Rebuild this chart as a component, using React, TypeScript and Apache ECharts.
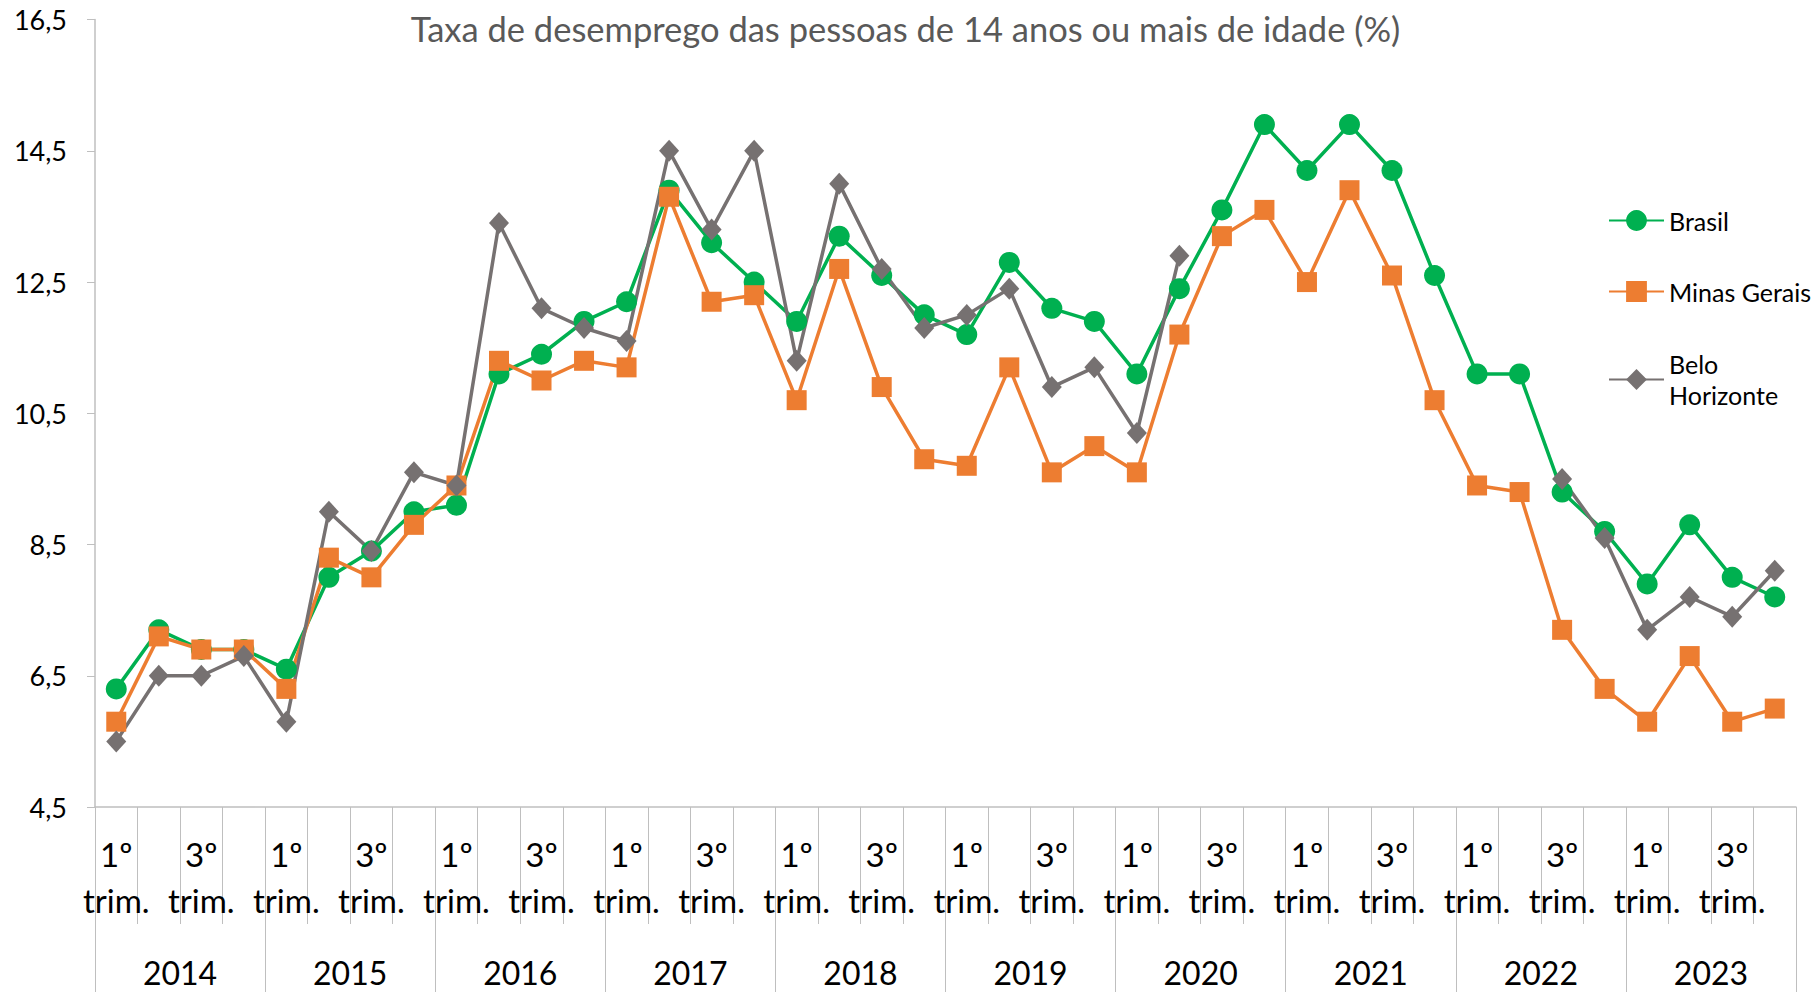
import React, { useEffect, useRef } from "react";
import * as echarts from "echarts";

const years = ["2014", "2015", "2016", "2017", "2018", "2019", "2020", "2021", "2022", "2023"];
const quarters = ["1º trim.", "2º trim.", "3º trim.", "4º trim."];
const yTicks = { min: 4.5, max: 16.5, interval: 2 };

const brasil = [
  6.3, 7.2, 6.9, 6.9,
  6.6, 8.0, 8.4, 9.0,
  9.1, 11.1, 11.4, 11.9,
  12.2, 13.9, 13.1, 12.5,
  11.9, 13.2, 12.6, 12.0,
  11.7, 12.8, 12.1, 11.9,
  11.1, 12.4, 13.6, 14.9,
  14.2, 14.9, 14.2, 12.6,
  11.1, 11.1, 9.3, 8.7,
  7.9, 8.8, 8.0, 7.7,
];
const minasGerais = [
  5.8, 7.1, 6.9, 6.9,
  6.3, 8.3, 8.0, 8.8,
  9.4, 11.3, 11.0, 11.3,
  11.2, 13.8, 12.2, 12.3,
  10.7, 12.7, 10.9, 9.8,
  9.7, 11.2, 9.6, 10.0,
  9.6, 11.7, 13.2, 13.6,
  12.5, 13.9, 12.6, 10.7,
  9.4, 9.3, 7.2, 6.3,
  5.8, 6.8, 5.8, 6.0,
];
const beloHorizonte = [
  5.5, 6.5, 6.5, 6.8,
  5.8, 9.0, 8.4, 9.6,
  9.4, 13.4, 12.1, 11.8,
  11.6, 14.5, 13.3, 14.5,
  11.3, 14.0, 12.7, 11.8,
  12.0, 12.4, 10.9, 11.2,
  10.2, 12.9, null, null,
  null, null, null, null,
  null, null, 9.5, 8.6,
  7.2, 7.7, 7.4, 8.1,
];

const categories = years.flatMap((y) => quarters.map((q) => `${q} ${y}`));

export default function App() {
  const ref = useRef<HTMLDivElement>(null);
  useEffect(() => {
    document.body.style.margin = "0";
    const chart = echarts.init(ref.current!, undefined, { renderer: "svg" });
    const axisGray = "#BFBFBF";
    const legendBase = {
      orient: "vertical",
      left: 1603,
      itemWidth: 55,
      itemHeight: 26,
      itemGap: 0,
      textStyle: { fontSize: 25, color: "#000", fontFamily: "Lato", lineHeight: 31 },
    };
    chart.setOption({
      animation: false,
      textStyle: { fontFamily: "Lato" },
      title: {
        text: "Taxa de desemprego das pessoas de 14 anos ou mais de idade (%)",
        left: "center",
        top: 6,
        textStyle: { fontSize: 34.5, fontWeight: "normal", color: "#595959", fontFamily: "Lato" },
      },
      legend: [
        { ...legendBase, top: 200, data: ["Brasil"] },
        { ...legendBase, top: 271, data: ["Minas Gerais"] },
        {
          ...legendBase,
          top: 328,
          data: ["Belo Horizonte"],
          formatter: (n: string) => n.replace(" ", "\n"),
          textStyle: { ...legendBase.textStyle, padding: [31, 0, 0, 0] },
        },
      ],
      grid: { left: 95, right: 15, top: 19.6, bottom: 185, containLabel: false, outerBoundsMode: "none" },
      xAxis: [
        {
          type: "category",
          data: categories,
          position: "bottom",
          boundaryGap: true,
          axisLine: { show: true, lineStyle: { color: axisGray, width: 1.5 } },
          axisTick: { show: true, interval: 0, length: 117, lineStyle: { color: axisGray, width: 1 } },
          axisLabel: {
            interval: 1,
            margin: 24,
            fontSize: 33,
            lineHeight: 46,
            color: "#000",
            formatter: (v: string) => v.split(" ").slice(0, 2).join("\n"),
          },
        },
        {
          type: "category",
          data: years,
          position: "bottom",
          boundaryGap: true,
          axisLine: { show: false },
          axisTick: { show: true, interval: 0, length: 185, lineStyle: { color: axisGray, width: 1 } },
          axisLabel: { interval: 0, margin: 147, fontSize: 32, lineHeight: 36, color: "#000" },
        },
      ],
      yAxis: {
        type: "value",
        min: yTicks.min,
        max: yTicks.max,
        interval: yTicks.interval,
        splitLine: { show: false },
        axisLine: { show: true, lineStyle: { color: axisGray, width: 1.5 } },
        axisTick: { show: true, length: 8, lineStyle: { color: axisGray } },
        axisLabel: {
          margin: 28,
          fontSize: 27,
          color: "#000",
          formatter: (v: number) => v.toFixed(1).replace(".", ","),
        },
      },
      series: [
        {
          name: "Brasil",
          type: "line",
          data: brasil,
          symbol: "circle",
          symbolSize: 21,
          itemStyle: { color: "#00B050" },
          lineStyle: { color: "#00B050", width: 3.5 },
        },
        {
          name: "Minas Gerais",
          type: "line",
          data: minasGerais,
          symbol: "rect",
          symbolSize: 20,
          itemStyle: { color: "#ED7D31" },
          lineStyle: { color: "#ED7D31", width: 3.5 },
        },
        {
          name: "Belo Horizonte",
          type: "line",
          data: beloHorizonte,
          symbol: "diamond",
          symbolSize: [20, 22],
          connectNulls: false,
          itemStyle: { color: "#767171" },
          lineStyle: { color: "#767171", width: 3.5 },
        },
      ],
    });
    return () => chart.dispose();
  }, []);
  return <div ref={ref} style={{ width: 1811, height: 992 }} />;
}
